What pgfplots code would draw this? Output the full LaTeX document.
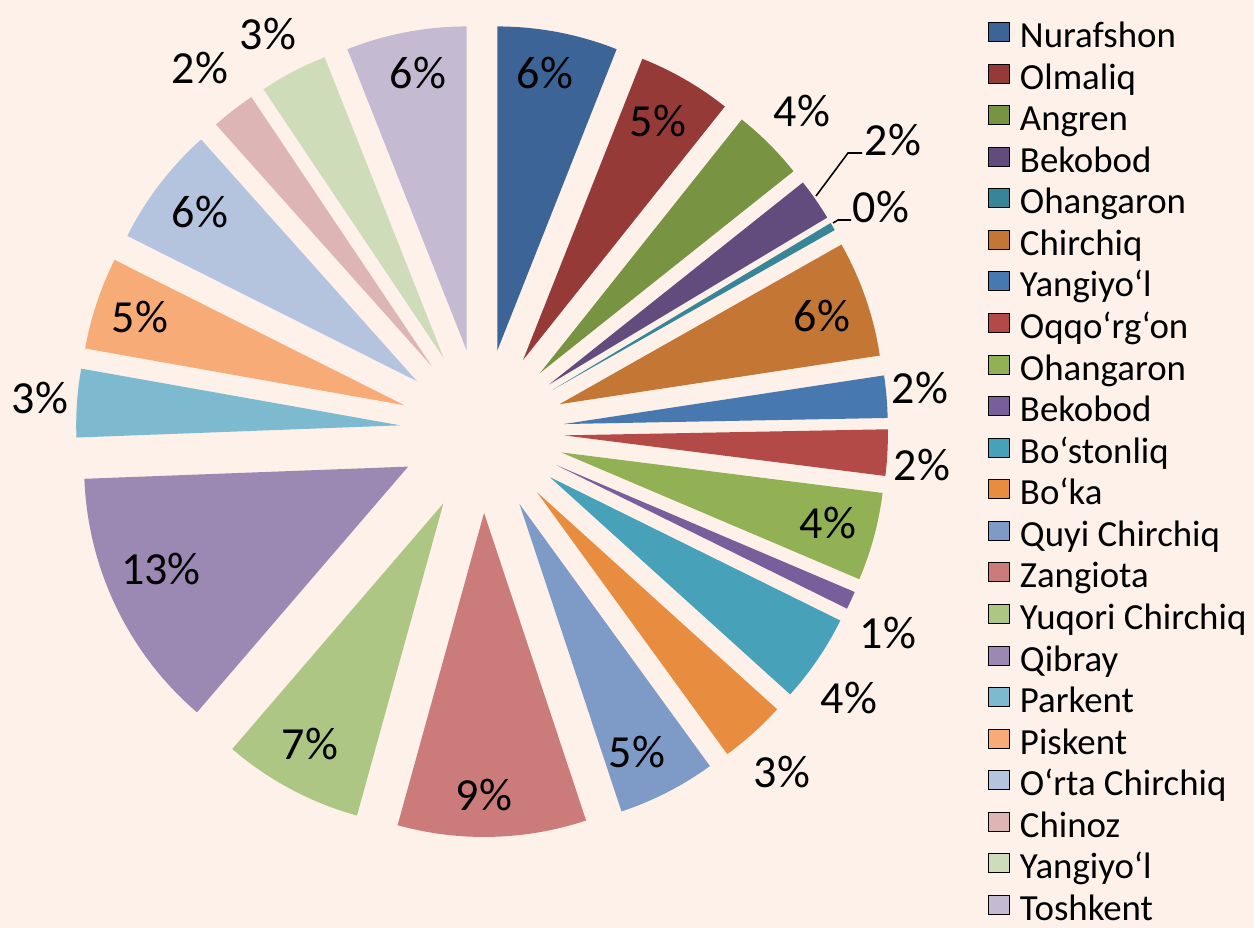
\documentclass[border=0pt]{standalone}
\usepackage{pgfplots}
\pgfplotsset{compat=1.18}
\usepackage{pgfplotstable}
\usepackage{fontspec}
\setmainfont{Carlito}

\definecolor{bgc}{RGB}{253,241,233}
\definecolor{c0}{RGB}{60,100,150}
\definecolor{c1}{RGB}{150,58,56}
\definecolor{c2}{RGB}{120,147,65}
\definecolor{c3}{RGB}{98,76,126}
\definecolor{c4}{RGB}{56,133,152}
\definecolor{c5}{RGB}{196,118,52}
\definecolor{c6}{RGB}{72,120,176}
\definecolor{c7}{RGB}{180,74,72}
\definecolor{c8}{RGB}{146,176,84}
\definecolor{c9}{RGB}{120,94,154}
\definecolor{c10}{RGB}{70,161,185}
\definecolor{c11}{RGB}{232,140,64}
\definecolor{c12}{RGB}{126,155,199}
\definecolor{c13}{RGB}{203,123,122}
\definecolor{c14}{RGB}{173,198,132}
\definecolor{c15}{RGB}{155,136,179}
\definecolor{c16}{RGB}{125,186,208}
\definecolor{c17}{RGB}{247,171,118}
\definecolor{c18}{RGB}{180,195,222}
\definecolor{c19}{RGB}{221,181,181}
\definecolor{c20}{RGB}{206,220,186}
\definecolor{c21}{RGB}{196,187,210}

\newcommand\labfont{\fontsize{32.7pt}{39pt}\selectfont}
\newcommand\legfont{\fontsize{26.2pt}{31pt}\selectfont}

% share in percent; label centre (lx, ly) in pixel units of the picture
\pgfplotstableread[col sep=comma]{
name,pct,lx,ly
Nurafshon,6.0,545,73
Olmaliq,4.7,658,121
Angren,3.6,802,111
Bekobod,2.1,893,140
Ohangaron,0.4,881,207
Chirchiq,5.8,822,316
Yangiyo‘l,2.1,920,388
Oqqo‘rg‘on,2.3,922,465
Ohangaron,4.4,828,523
Bekobod,0.9,888,633
Bo‘stonliq,4.4,849,698
Bo‘ka,3.3,782,772
Quyi Chirchiq,4.9,637,752
Zangiota,9.4,484,795
Yuqori Chirchiq,7.0,310,744
Qibray,13.1,161,569
Parkent,3.4,40,398
Piskent,4.6,140,317
O‘rta Chirchiq,6.0,200,212
Chinoz,2.2,200,68
Yangiyo‘l,3.4,268,34
Toshkent,6.0,418,73
}\slices

\def\R{8.1}
\def\dexp{2.05}
\gdef\cum{0}

\begin{document}
\begin{tikzpicture}
\begin{axis}[
  x=1cm, y=1cm,
  xmin=-12.05, xmax=19.3, ymin=-12.425, ymax=10.775,
  enlargelimits=false,
  hide axis, clip=false,
  legend style={at={(axis cs:12.65,10.285)}, anchor=north west,
    draw=none, fill=none, inner sep=0pt, outer sep=0pt, font=\legfont,
    row sep=0.289cm,
    nodes={inner sep=0pt, text height=0.7cm, text depth=0.05cm},
    /tikz/every odd column/.append style={column sep=0.26cm}},
  legend cell align=left,
  legend image code/.code={\fill[#1] (0cm,-0.17cm) rectangle (0.525cm,0.305cm);},
]
\fill[bgc] (rel axis cs:0,0) rectangle (rel axis cs:1,1);
\coordinate (BL) at (rel axis cs:0,0);
\coordinate (TR) at (rel axis cs:1,1);
\pgfplotsinvokeforeach{0,...,21}{%
  \pgfplotstablegetelem{#1}{pct}\of\slices
  \let\pct\pgfplotsretval
  \pgfmathsetmacro\w{\pct*3.6}%
  \pgfmathtruncatemacro\lbl{round(\pct)}%
  \pgfmathsetmacro\aone{90-\cum}%
  \pgfmathsetmacro\atwo{90-\cum-\w}%
  \pgfmathsetmacro\amid{90-\cum-\w/2}%
  \pgfmathsetmacro\tx{\dexp*cos(\amid)}%
  \pgfmathsetmacro\ty{\dexp*sin(\amid)}%
  \pgfmathsetmacro\ox{\tx+\R*cos(\aone)}%
  \pgfmathsetmacro\oy{\ty+\R*sin(\aone)}%
  \pgfmathsetmacro\newcum{\cum+\w}%
  \xdef\cum{\newcum}%
  \edef\temp{\noexpand\fill[c#1] (axis cs:\tx,\ty) -- (axis cs:\ox,\oy) arc[start angle=\aone, end angle=\atwo, radius=\R] -- cycle;}%
  \temp
  \pgfplotstablegetelem{#1}{lx}\of\slices
  \pgfmathsetmacro\lx{(\pgfplotsretval-482)/40}%
  \pgfplotstablegetelem{#1}{ly}\of\slices
  \pgfmathsetmacro\ly{(431-\pgfplotsretval)/40}%
  \edef\temp{\noexpand\node[font=\noexpand\labfont, inner sep=0pt] at (axis cs:\lx,\ly) {\lbl\noexpand\%};}%
  \temp
  \addlegendimage{fill=c#1}
  \pgfplotstablegetelem{#1}{name}\of\slices
  \addlegendentryexpanded{\pgfplotsretval}
}
% leader lines for the two thin slices
\draw[black, line width=1.1pt] (axis cs:{(816-482)/40},{(431-196)/40}) -- (axis cs:{(848-482)/40},{(431-153)/40}) -- (axis cs:{(862-482)/40},{(431-153)/40});
\draw[black, line width=1.1pt] (axis cs:{(833-482)/40},{(431-223)/40}) -- (axis cs:{(838-482)/40},{(431-220)/40}) -- (axis cs:{(851-482)/40},{(431-220)/40});
\end{axis}
\pgfresetboundingbox
\path[use as bounding box] (BL) rectangle (TR);
\end{tikzpicture}
\end{document}
